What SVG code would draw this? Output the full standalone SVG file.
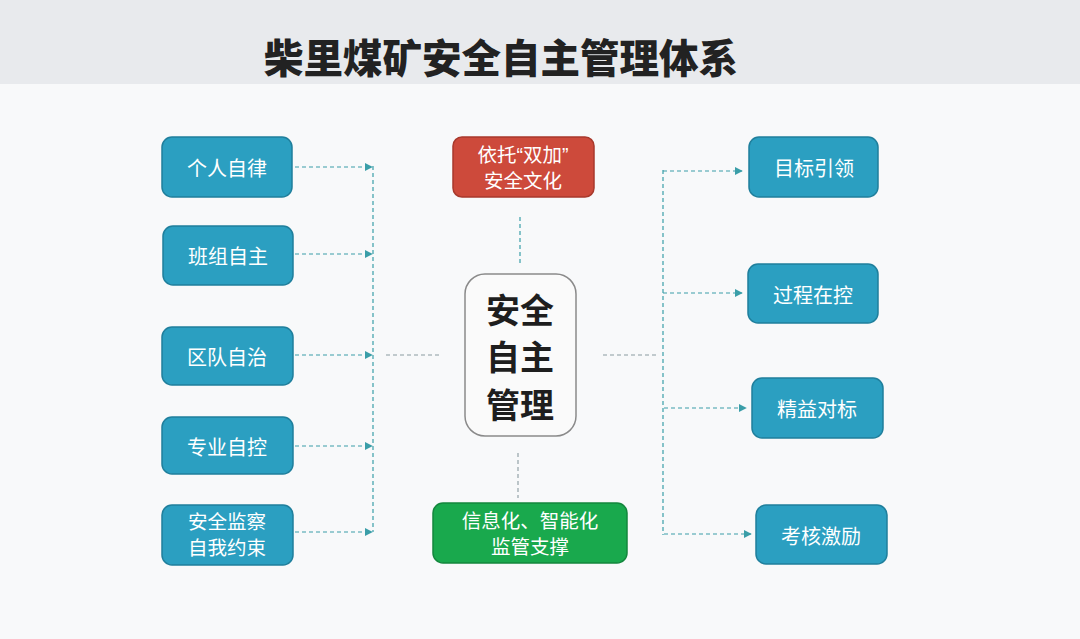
<svg xmlns="http://www.w3.org/2000/svg" width="1080" height="639" viewBox="0 0 1080 639">
<style>
.bg{fill:#f8f9fa}
.band{fill:#e8eaed}
.title{font-family:"Noto Sans CJK SC","Noto Sans",sans-serif;font-weight:900;font-size:39.5px;fill:#222}
.tb rect{fill:#2b9fc1;stroke:#1f7f9c;stroke-width:1.5}
.lbl{font-family:"Noto Sans CJK SC","Noto Sans",sans-serif;font-size:20px;fill:#fff;text-anchor:middle;dominant-baseline:central}
.lbl2{font-family:"Noto Sans CJK SC","Noto Sans",sans-serif;font-size:19.5px;fill:#fff;text-anchor:middle}
.q{font-family:"Liberation Sans",sans-serif}
.center{font-family:"Noto Sans CJK SC","Noto Sans",sans-serif;font-weight:700;font-size:34px;fill:#1e1e1e;text-anchor:middle;dominant-baseline:central}
.dash{fill:none;stroke:#3a9ea8;stroke-width:1.2;stroke-dasharray:4 3}
.dashg{fill:none;stroke:#8a9ca0;stroke-width:1.1;stroke-dasharray:4 3}
</style>
<defs>
<marker id="arr" viewBox="0 0 10 10" refX="9" refY="5" markerWidth="8" markerHeight="8" markerUnits="userSpaceOnUse" orient="auto">
<path d="M0,0 L10,5 L0,10 z" fill="#3a9ea8"/>
</marker>
</defs>
<rect class="bg" x="0" y="0" width="1080" height="639"/>
<rect class="band" x="0" y="0" width="1080" height="84"/>
<text class="title" x="501" y="55" text-anchor="middle" dominant-baseline="central">柴里煤矿安全自主管理体系</text>

<g id="connectors">
<path class="dash" d="M373,166 V532"/>
<path class="dash" d="M295,167 H372" marker-end="url(#arr)"/>
<path class="dash" d="M295,254 H372" marker-end="url(#arr)"/>
<path class="dash" d="M295,355 H372" marker-end="url(#arr)"/>
<path class="dash" d="M295,446 H372" marker-end="url(#arr)"/>
<path class="dash" d="M295,532 H372" marker-end="url(#arr)"/>
<path class="dashg" d="M386,355 H442"/>
<path class="dashg" d="M603,355 H659"/>
<path class="dash" d="M520,217 V264"/>
<path class="dashg" d="M518,453 V498"/>
<path class="dash" d="M663,170 V535"/>
<path class="dash" d="M663,171 H742" marker-end="url(#arr)"/>
<path class="dash" d="M663,293 H742" marker-end="url(#arr)"/>
<path class="dash" d="M664,408 H746" marker-end="url(#arr)"/>
<path class="dash" d="M664,534 H751" marker-end="url(#arr)"/>
</g>

<g id="n-geren" class="tb"><rect x="162" y="137" width="130" height="60" rx="10"/><text class="lbl" x="227" y="167">个人自律</text></g>
<g id="n-banzu" class="tb"><rect x="163" y="226" width="130" height="59" rx="10"/><text class="lbl" x="228" y="255">班组自主</text></g>
<g id="n-qudui" class="tb"><rect x="162" y="327" width="131" height="58" rx="10"/><text class="lbl" x="227" y="356">区队自治</text></g>
<g id="n-zhuanye" class="tb"><rect x="162" y="417" width="131" height="57" rx="10"/><text class="lbl" x="227" y="446">专业自控</text></g>
<g id="n-jiancha" class="tb"><rect x="162" y="505" width="131" height="60" rx="10"/><text class="lbl2" x="227" y="529"><tspan x="227">安全监察</tspan><tspan x="227" dy="26">自我约束</tspan></text></g>

<g id="n-wenhua"><rect x="453" y="137" width="141" height="60" rx="9" fill="#cd4a3b" stroke="#a8392c" stroke-width="1.5"/><text class="lbl2" x="523" y="162"><tspan x="523">依托<tspan class="q">“</tspan>双加<tspan class="q">”</tspan></tspan><tspan x="523" dy="26">安全文化</tspan></text></g>

<g id="n-center"><rect x="465" y="274" width="111" height="162" rx="20" fill="#fafafa" stroke="#8a8a8a" stroke-width="1.5"/><text class="center" x="520" y="308">安全</text><text class="center" x="520" y="355">自主</text><text class="center" x="520" y="403">管理</text></g>

<g id="n-xinxi"><rect x="433" y="503" width="194" height="60" rx="10" fill="#19a94d" stroke="#13873d" stroke-width="1.5"/><text class="lbl2" x="530" y="528"><tspan x="530">信息化、智能化</tspan><tspan x="530" dy="26">监管支撑</tspan></text></g>

<g id="n-mubiao" class="tb"><rect x="749" y="137" width="129" height="60" rx="10"/><text class="lbl" x="814" y="167">目标引领</text></g>
<g id="n-guocheng" class="tb"><rect x="748" y="264" width="130" height="59" rx="10"/><text class="lbl" x="813" y="294">过程在控</text></g>
<g id="n-jingyi" class="tb"><rect x="752" y="378" width="131" height="60" rx="10"/><text class="lbl" x="817" y="408">精益对标</text></g>
<g id="n-kaohe" class="tb"><rect x="756" y="505" width="131" height="59" rx="10"/><text class="lbl" x="821" y="535">考核激励</text></g>
</svg>
